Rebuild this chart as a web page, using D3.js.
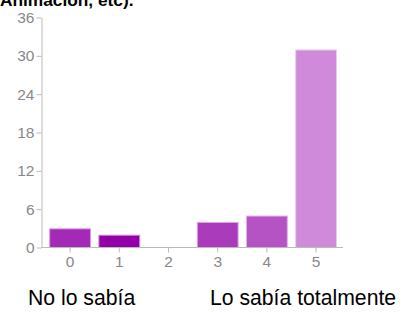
<!DOCTYPE html>
<html><head><meta charset="utf-8">
<script src="https://cdn.jsdelivr.net/npm/d3@7"></script>
<style>body{margin:0;background:#fff;overflow:hidden}svg{display:block}</style>
</head><body>
<svg id="c" width="403" height="312"></svg>
<script>
const title = "Animación, etc).";
const categories = ["0","1","2","3","4","5"];
const values = [3, 2, 0, 4, 5, 31];
const colors = ["#a429b6","#9300a8","#a92fba","#aa3bbb","#b553c5","#cf8bd9"];
const yTicks = [0, 6, 12, 18, 24, 30, 36];
const lowLabel = "No lo sabía";
const highLabel = "Lo sabía totalmente";

const svg = d3.select("#c");
const x = d3.scaleBand().domain(categories).range([45.5, 340.7]).paddingInner(0.15).paddingOuter(0.075);
const y = d3.scaleLinear().domain([0, 36]).range([247.5, 17.5]);

svg.append("text").attr("x", 0).attr("y", 5.5)
  .attr("font-family", "Liberation Sans, Arial, sans-serif").attr("font-weight", "bold")
  .attr("font-size", 17.3).attr("fill", "#000").text(title);

svg.selectAll("rect.bar").data(values).join("rect").attr("class","bar")
  .attr("x", (d,i) => x(categories[i]) + 0.5)
  .attr("width", x.bandwidth() - 1)
  .attr("y", d => y(d) + 0.5)
  .attr("height", d => Math.max(0, y(0) - y(d) - 0.5))
  .attr("fill", (d,i) => colors[i])
  .attr("stroke", (d,i) => d3.interpolateRgb(colors[i], "#ffffff")(0.55))
  .attr("stroke-width", 1)
  .style("display", d => d > 0 ? null : "none");

const gy = svg.append("g").attr("transform", "translate(41.5,0)")
  .call(d3.axisLeft(y).tickValues(yTicks).tickSize(5).tickSizeOuter(0).tickPadding(2));
gy.select(".domain").attr("stroke", "#bbb");
gy.selectAll(".tick line").attr("stroke", "#bbb");
gy.selectAll(".tick text").attr("fill", "#888").attr("font-size", 15.5)
  .attr("font-family", "Liberation Sans, Arial, sans-serif");

const gx = svg.append("g").attr("transform", "translate(0,247.5)")
  .call(d3.axisBottom(x).tickSize(5).tickPadding(3));
gx.select(".domain").remove();
gx.append("line").attr("x1", 41.5).attr("x2", 343).attr("stroke", "#bbb");
gx.selectAll(".tick line").attr("stroke", "#bbb");
gx.selectAll(".tick text").attr("fill", "#888").attr("font-size", 15.5)
  .attr("font-family", "Liberation Sans, Arial, sans-serif");

svg.append("text").attr("x", 28).attr("y", 305)
  .attr("font-family", "Liberation Sans, Arial, sans-serif").attr("font-size", 21.2)
  .attr("fill", "#000").text(lowLabel);
svg.append("text").attr("x", 210).attr("y", 305)
  .attr("font-family", "Liberation Sans, Arial, sans-serif").attr("font-size", 21.2)
  .attr("fill", "#000").text(highLabel);
</script>
</body></html>
